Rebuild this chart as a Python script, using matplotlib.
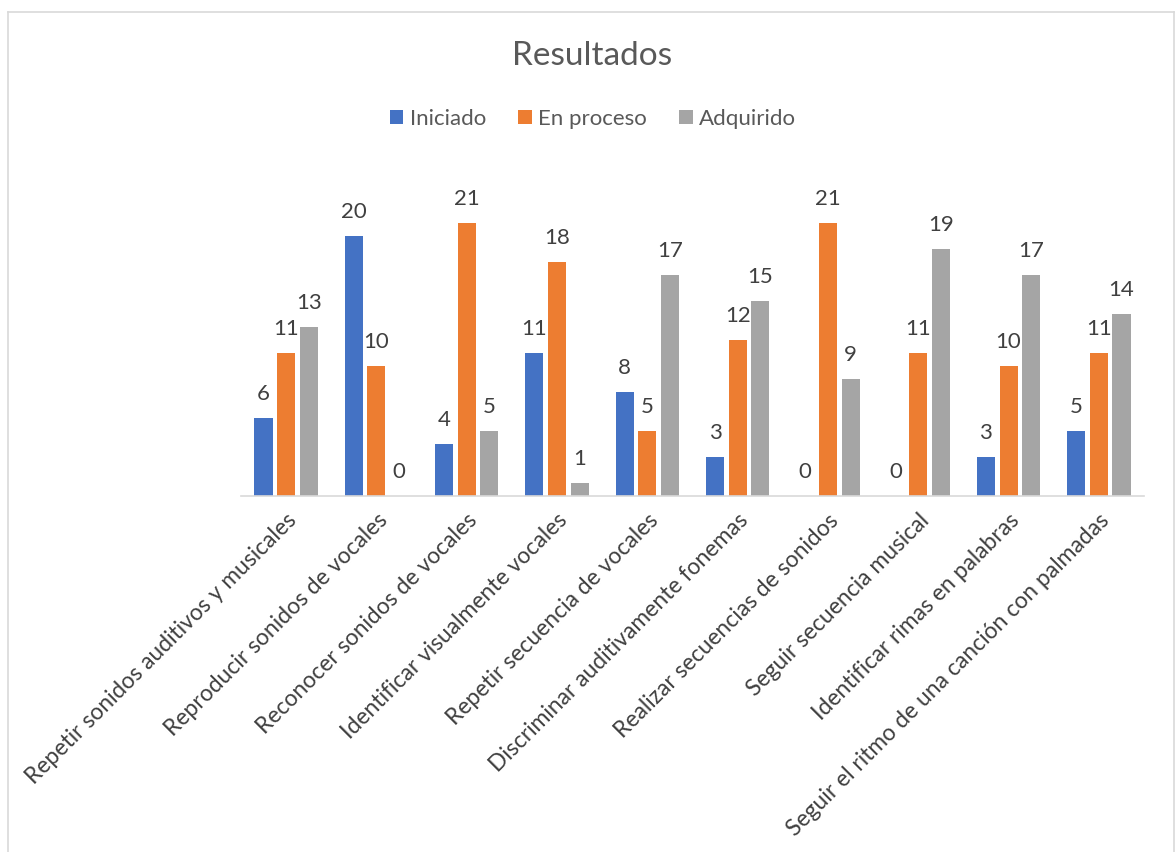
import matplotlib
matplotlib.use("Agg")
import matplotlib.pyplot as plt
import numpy as np
from matplotlib.lines import Line2D

categories = [
    "Repetir sonidos auditivos y musicales",
    "Reproducir sonidos de vocales",
    "Reconocer sonidos de vocales",
    "Identificar visualmente vocales",
    "Repetir secuencia de vocales",
    "Discriminar auditivamente fonemas",
    "Realizar secuencias de sonidos",
    "Seguir secuencia musical",
    "Identificar rimas en palabras",
    "Seguir el ritmo de una canción con palmadas",
]
series_names = ["Iniciado", "En proceso", "Adquirido"]
iniciado = [6, 20, 4, 11, 8, 3, 0, 0, 3, 5]
en_proceso = [11, 10, 21, 18, 5, 12, 21, 11, 10, 11]
adquirido = [13, 0, 5, 1, 17, 15, 9, 19, 17, 14]
colors = ["#4472C4", "#ED7D31", "#A5A5A5"]

plt.rcParams['font.family'] = ['Lato', 'DejaVu Sans']
txt = "#595959"
dark = "#404040"

fig = plt.figure(figsize=(11.75, 8.52), dpi=100)
W, H = 1175, 852
ax = fig.add_axes([241 / W, 1 - 496 / H, 903 / W, 325 / H])

x = np.arange(len(categories))
step = 0.251
width = 0.2
for i, (name, vals) in enumerate(zip(series_names, [iniciado, en_proceso, adquirido])):
    pos = x + (i - 1) * step
    ax.bar(pos, vals, width=width, color=colors[i], label=name)
    for p, v in zip(pos, vals):
        ax.annotate(str(v), (p, v), xytext=(0, 10), textcoords='offset points',
                    ha='center', va='bottom', fontsize=16, color=dark)

ax.set_xlim(-0.5, len(categories) - 0.5)
ax.set_ylim(0, 25)
ax.set_yticks([])
for s in ['top', 'right', 'left']:
    ax.spines[s].set_visible(False)
ax.spines['bottom'].set_color('#D9D9D9')
ax.spines['bottom'].set_linewidth(1.2)
ax.set_xticks(x)
ax.set_xticklabels(categories, rotation=45, ha='right', va='top',
                   rotation_mode='anchor', fontsize=16.5, color=dark)
ax.tick_params(axis='x', length=0, pad=10)

fig.text(592 / W, 1 - 56 / H, "Resultados", ha='center', va='center', fontsize=24, color=txt)
fig.legend(loc='center', bbox_to_anchor=(593 / W, 1 - 119 / H), ncol=3, frameon=False,
           fontsize=16, handlelength=0.6, handleheight=0.6, columnspacing=1.45,
           handletextpad=0.3, labelcolor=txt)

bc = '#D9D9D9'
fig.add_artist(Line2D([7.5 / W, 7.5 / W], [0, 1 - 11.5 / H], transform=fig.transFigure, color=bc, lw=1.2))
fig.add_artist(Line2D([7.5 / W, 1173.5 / W], [1 - 11.5 / H, 1 - 11.5 / H], transform=fig.transFigure, color=bc, lw=1.2))
fig.add_artist(Line2D([1173.5 / W, 1173.5 / W], [0, 1 - 11.5 / H], transform=fig.transFigure, color=bc, lw=1.2))

fig.savefig("out.png", dpi=100)
